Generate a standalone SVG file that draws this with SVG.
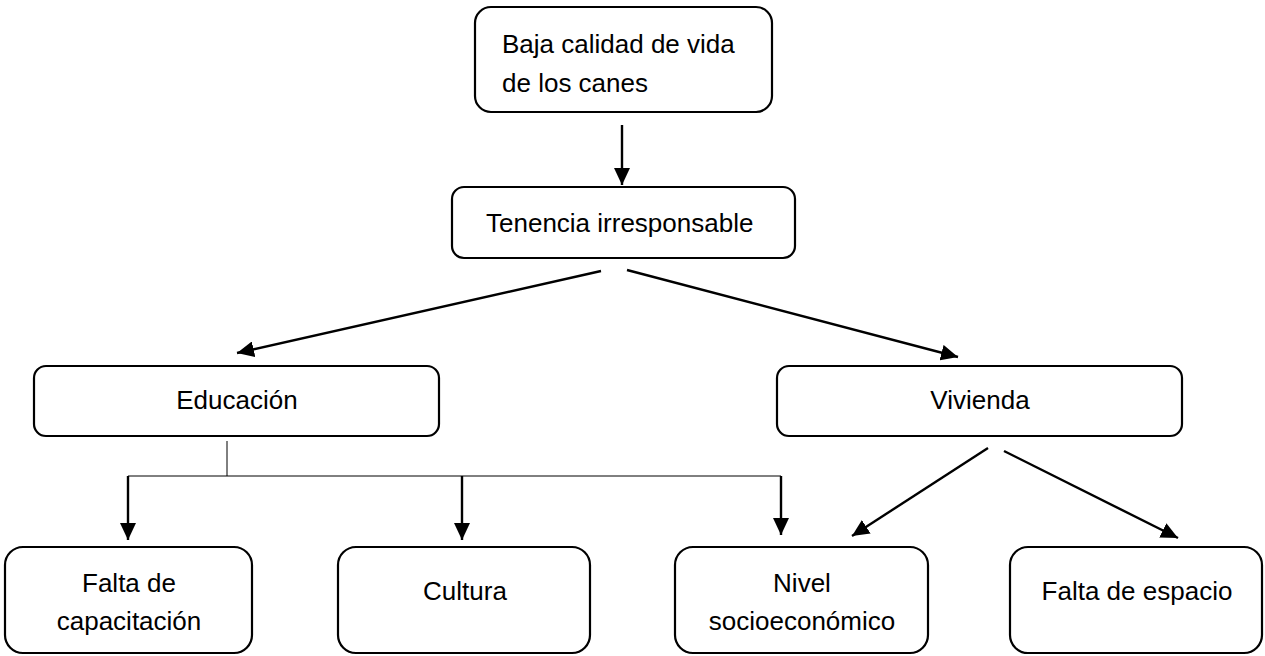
<svg xmlns="http://www.w3.org/2000/svg" width="1265" height="656" viewBox="0 0 1265 656">
<defs>
<marker id="ah" markerUnits="userSpaceOnUse" markerWidth="17" markerHeight="16" refX="17" refY="8" orient="auto">
<path d="M0,0 L17,8 L0,16 Z" fill="#000"/>
</marker>
<style>
.box{fill:#fff;stroke:#000;stroke-width:2.2}
.t{font-family:"Liberation Sans",Arial,sans-serif;font-size:26px;fill:#000}
.c{text-anchor:middle}
.ar{stroke:#000;stroke-width:2.4;fill:none;marker-end:url(#ah)}
.th{stroke:#000;stroke-width:1;fill:none}
</style>
</defs>
<rect width="1265" height="656" fill="#fff"/>
<g id="n-baja">
<rect class="box" x="475" y="7" width="297" height="105" rx="16"/>
<text class="t" x="502" y="53">Baja calidad de vida</text>
<text class="t" x="502" y="92">de los canes</text>
</g>
<g id="n-tenencia">
<rect class="box" x="452" y="187" width="343" height="71" rx="12"/>
<text class="t" x="486" y="232">Tenencia irresponsable</text>
</g>
<g id="n-educacion">
<rect class="box" x="34" y="366" width="405" height="70" rx="12"/>
<text class="t c" x="237" y="409">Educación</text>
</g>
<g id="n-vivienda">
<rect class="box" x="777" y="366" width="405" height="70" rx="12"/>
<text class="t c" x="980" y="409">Vivienda</text>
</g>
<g id="n-falta-cap">
<rect class="box" x="5" y="547" width="247" height="106" rx="18"/>
<text class="t c" x="129" y="592">Falta de</text>
<text class="t c" x="129" y="630">capacitación</text>
</g>
<g id="n-cultura">
<rect class="box" x="338" y="547" width="252" height="106" rx="18"/>
<text class="t c" x="465" y="600">Cultura</text>
</g>
<g id="n-nivel">
<rect class="box" x="675" y="547" width="253" height="106" rx="18"/>
<text class="t c" x="802" y="592">Nivel</text>
<text class="t c" x="802" y="630">socioeconómico</text>
</g>
<g id="n-espacio">
<rect class="box" x="1010" y="547" width="252" height="106" rx="18"/>
<text class="t c" x="1137" y="600">Falta de espacio</text>
</g>
<g id="connectors">
<line class="ar" x1="622" y1="125" x2="622" y2="185"/>
<line class="ar" x1="601" y1="271" x2="237" y2="353"/>
<line class="ar" x1="627" y1="270" x2="958" y2="357"/>
<line class="th" x1="227" y1="441" x2="227" y2="476"/>
<line class="th" x1="128" y1="476" x2="781" y2="476"/>
<line class="ar" x1="128" y1="476" x2="128" y2="540"/>
<line class="ar" x1="462" y1="476" x2="462" y2="540"/>
<line class="ar" x1="781" y1="476" x2="781" y2="535"/>
<line class="ar" x1="988" y1="448" x2="852" y2="536"/>
<line class="ar" x1="1004" y1="451" x2="1178" y2="538"/>
</g>
</svg>
